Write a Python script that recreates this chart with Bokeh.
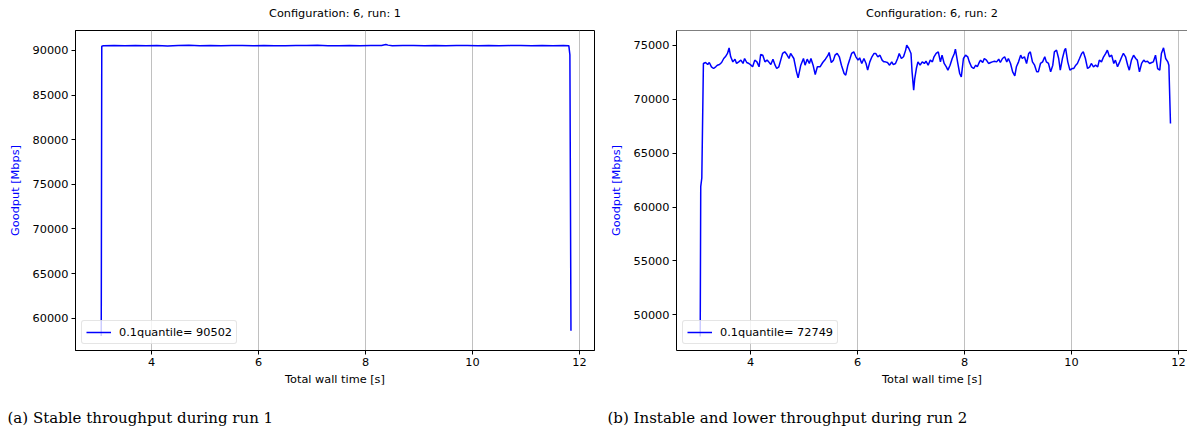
from bokeh.plotting import figure
from bokeh.models import Range1d, FixedTicker, Label, Span, BasicTickFormatter
from bokeh.layouts import row, column
from bokeh.embed import file_html
from bokeh.resources import INLINE

# ---------------- data ----------------
titles = ["Configuration: 6, run: 1", "Configuration: 6, run: 2"]
captions = ["(a) Stable throughput during run 1", "(b) Instable and lower throughput during run 2"]
legend_labels = ["0.1quantile= 90502", "0.1quantile= 72749"]
x_ticks = [4, 6, 8, 10, 12]
y_ticks_run1 = [60000, 65000, 70000, 75000, 80000, 85000, 90000]
y_ticks_run2 = [50000, 55000, 60000, 65000, 70000, 75000]

run1_time = [3.06, 3.07, 3.10, 3.30, 3.50, 3.70, 3.90, 4.10, 4.30, 4.50, 4.70, 4.90, 5.10,
             5.30, 5.50, 5.70, 5.90, 6.10, 6.30, 6.50, 6.70, 6.90, 7.10, 7.30, 7.50, 7.70,
             7.90, 8.10, 8.30, 8.38, 8.42, 8.50, 8.70, 8.90, 9.10, 9.30, 9.50, 9.70, 9.90,
             10.10, 10.30, 10.50, 10.70, 10.90, 11.10, 11.30, 11.50, 11.70, 11.80, 11.82, 11.84]
run1_goodput = [58000, 90480, 90540, 90560, 90520, 90570, 90540, 90560, 90510, 90550, 90580,
                90540, 90560, 90520, 90550, 90570, 90530, 90560, 90540, 90520, 90560, 90550,
                90580, 90540, 90520, 90560, 90540, 90550, 90560, 90680, 90600, 90520, 90550,
                90570, 90540, 90560, 90530, 90550, 90570, 90540, 90560, 90520, 90550, 90560,
                90540, 90570, 90530, 90560, 90540, 89500, 58600]

run2_time = [3.06, 3.07, 3.09,
             3.12, 3.16, 3.20, 3.23, 3.27, 3.31, 3.35, 3.38, 3.42, 3.46, 3.50, 3.53, 3.57, 3.60,
             3.63, 3.67, 3.71, 3.74, 3.78, 3.82, 3.86, 3.89, 3.93, 3.97, 4.01, 4.04, 4.08, 4.12,
             4.16, 4.19, 4.23, 4.27, 4.31, 4.34, 4.38, 4.42, 4.46, 4.49, 4.53, 4.57, 4.60, 4.64,
             4.68, 4.72,
             4.75, 4.81, 4.86, 4.89, 4.94, 4.99, 5.02, 5.06, 5.10, 5.13, 5.17, 5.21, 5.25, 5.30,
             5.35, 5.40, 5.45, 5.47, 5.51, 5.55, 5.58, 5.62, 5.66, 5.70, 5.75, 5.78, 5.82, 5.86,
             5.89, 5.93, 5.97, 6.01, 6.04, 6.08, 6.12, 6.16, 6.19, 6.23, 6.27, 6.31, 6.34, 6.38,
             6.42, 6.46, 6.49,
             6.52, 6.56, 6.60, 6.64, 6.67, 6.71, 6.75, 6.78, 6.82, 6.86, 6.90, 6.92, 6.96, 7.00,
             7.02, 7.05, 7.07, 7.10, 7.13, 7.17, 7.21, 7.25, 7.28, 7.32, 7.36, 7.40, 7.43, 7.47,
             7.51, 7.55, 7.58, 7.62, 7.66, 7.69, 7.73, 7.77, 7.81, 7.83, 7.87, 7.91, 7.94, 7.98,
             8.02, 8.06, 8.09, 8.13, 8.17, 8.21, 8.24, 8.28,
             8.30, 8.34, 8.37, 8.41, 8.45, 8.49, 8.52, 8.56, 8.60, 8.64, 8.67, 8.71, 8.75, 8.79,
             8.82, 8.86, 8.90, 8.94, 8.97, 9.01, 9.05, 9.08, 9.12, 9.16, 9.20, 9.23, 9.27, 9.31,
             9.35, 9.38, 9.42, 9.46, 9.50, 9.53, 9.57, 9.61, 9.65, 9.68, 9.72, 9.76, 9.79, 9.83,
             9.87, 9.89, 9.93, 9.97, 10.01, 10.04,
             10.08, 10.11, 10.15, 10.19, 10.22, 10.26, 10.30, 10.34, 10.37, 10.41, 10.45, 10.49,
             10.52, 10.56, 10.60, 10.64, 10.67, 10.71, 10.75, 10.79, 10.82, 10.86, 10.90, 10.94,
             10.97, 11.01, 11.05, 11.08, 11.12, 11.16, 11.20, 11.23, 11.27, 11.31, 11.35, 11.38,
             11.42, 11.46, 11.50, 11.53, 11.57, 11.61, 11.65, 11.68, 11.72, 11.76, 11.80, 11.82,
             11.85]
run2_goodput = [48000, 61900, 62700,
                73330, 73420, 73230, 73420, 73020, 72860, 73020, 73170, 73230, 73420, 73790,
                73950, 74260, 74780, 73950, 73480, 73730, 73330, 73480, 73640, 73330, 73790,
                73420, 73330, 73170, 73020, 73640, 73480, 73020, 74160, 74100, 73480, 73640,
                73480, 73230, 73730, 73170, 72860, 73020, 73730, 74260, 74410, 74160, 73790,
                74260, 73790, 72550, 72000, 73170, 73790, 73170, 73730, 73330, 73790, 73170,
                72300, 73020, 73020, 73420, 73730, 74100, 74350, 73420, 73640, 74100, 74260,
                73950, 73170, 72400, 72240, 73170, 73790, 74260, 74410, 73950, 73640, 73850,
                73330, 73790, 73330, 72710, 73480, 73950, 74260, 74260, 73950, 74100, 73640,
                73480,
                73480, 73420, 73170, 73480, 73230, 73330, 73790, 74260, 73790, 73950, 74570,
                75030, 74720, 74260, 72550, 70850, 71930, 72860, 73480, 73170, 73480, 73330,
                73540, 73170, 73640, 73480, 73950, 74260, 74410, 73480, 74100, 73330, 73020,
                72710, 73170, 73790, 74260, 74660, 73480, 72400, 72090, 73790, 74100, 73950,
                73480, 73020, 72860, 73170, 73020, 73480,
                73640, 73420, 73790, 73640, 73330, 73420, 73480, 73540, 73480, 73730, 73420,
                73790, 73950, 73480, 73790, 73330, 72550, 72180, 73020, 73480, 74100, 73790,
                73950, 73330, 74260, 74410, 73480, 73170, 72550, 72550, 73330, 73480, 73950,
                73480, 73330, 72550, 73170, 74410, 74570, 73790, 72710, 73790, 74570, 74720,
                73480, 72710, 72860, 72860,
                73170, 73330, 73790, 74260, 74410, 73790, 72860, 73020, 73330, 73020, 73170,
                73020, 73640, 73480, 73950, 74260, 74570, 73950, 74100, 73330, 73640, 73020,
                73480, 73950, 74260, 73950, 73170, 72710, 73640, 74100, 73790, 73640, 72550,
                73330, 73640, 73480, 73540, 73330, 73420, 73480, 74100, 72860, 72710, 74260,
                74780, 73790, 73480, 73170, 67750]

# ---------------- styling helpers ----------------
FONT = "DejaVu Sans"
FS = "11.3px"
TITLE_H = 22
PLOT_H = 373
CAP_H = 37


def make_panel(width, border_left, border_right, xr, yr, xs, ys, y_ticks,
               legend_label, full_outline):
    p = figure(width=width, height=PLOT_H, output_backend="svg", toolbar_location=None,
               x_range=Range1d(*xr), y_range=Range1d(*yr),
               min_border_left=border_left, min_border_right=border_right,
               min_border_top=8, min_border_bottom=45,
               background_fill_color="white", border_fill_color="white")

    p.line(xs, ys, line_color="#0000ff", line_width=1.5, legend_label=legend_label)

    p.xgrid.grid_line_color = "#b0b0b0"
    p.xgrid.grid_line_width = 0.8
    p.ygrid.grid_line_color = None

    p.xaxis.ticker = FixedTicker(ticks=x_ticks)
    p.yaxis.ticker = FixedTicker(ticks=y_ticks)
    p.yaxis.formatter = BasicTickFormatter(use_scientific=False)
    for ax in (p.xaxis[0], p.yaxis[0]):
        ax.minor_tick_line_color = None
        ax.major_tick_in = 0
        ax.major_tick_out = 4
        ax.major_tick_line_color = "black"
        ax.axis_line_color = "black"
        ax.major_label_text_font = FONT
        ax.major_label_text_font_size = FS
        ax.major_label_text_color = "black"
        ax.major_label_standoff = 3
        ax.axis_label_text_font = FONT
        ax.axis_label_text_font_size = FS
        ax.axis_label_text_font_style = "normal"
    p.xaxis.axis_label = "Total wall time [s]"
    p.xaxis.axis_label_text_color = "black"
    p.xaxis.axis_label_standoff = 4
    p.yaxis.axis_label = "Goodput [Mbps]"
    p.yaxis.axis_label_text_color = "#0000ff"
    p.yaxis.axis_label_standoff = 8

    if full_outline:
        p.outline_line_color = "black"
        p.outline_line_width = 1
    else:
        p.outline_line_color = None
        p.add_layout(Span(location=yr[1], dimension="width", line_color="black", line_width=1))

    lg = p.legend[0]
    lg.location = "bottom_left"
    lg.margin = 6
    lg.padding = 4
    lg.spacing = 0
    lg.label_text_font = FONT
    lg.label_text_font_size = FS
    lg.label_text_color = "black"
    lg.label_standoff = 8
    lg.glyph_width = 25
    lg.glyph_height = 14
    lg.label_height = 14
    lg.border_line_color = "#cccccc"
    lg.border_line_width = 1
    lg.border_radius = 3
    lg.background_fill_alpha = 0.8
    return p


def make_text_strip(width, height, text, x, y, font, size, align):
    c = figure(width=width, height=height, output_backend="svg", toolbar_location=None,
               x_range=Range1d(0, width), y_range=Range1d(0, height),
               x_axis_location=None, y_axis_location=None,
               min_border=0, outline_line_color=None,
               background_fill_color="white", border_fill_color="white")
    c.grid.visible = False
    c.add_layout(Label(x=x, y=y, text=text, text_font=font, text_font_size=size,
                       text_color="black", text_baseline="middle", text_align=align))
    return c


p1 = make_panel(600, 75, 6, (2.579, 12.28), (56380, 92240), run1_time, run1_goodput,
                y_ticks_run1, legend_labels[0], True)
p2 = make_panel(587, 76, 0, (2.617, 12.168), (46690, 76390), run2_time, run2_goodput,
                y_ticks_run2, legend_labels[1], False)

# titles centred over each frame
t1 = make_text_strip(600, TITLE_H, titles[0], 75 + 519 / 2, 9.5, FONT, FS, "center")
t2 = make_text_strip(587, TITLE_H, titles[1], 76 + 511 / 2, 9.5, FONT, FS, "center")
# sub-figure captions
c1 = make_text_strip(600, CAP_H, captions[0], 7, 15, "DejaVu Serif", "15px", "left")
c2 = make_text_strip(587, CAP_H, captions[1], 7, 15, "DejaVu Serif", "15px", "left")

layout = column(row(t1, t2), row(p1, p2), row(c1, c2))
open("out.html", "w").write(file_html(layout, INLINE))
